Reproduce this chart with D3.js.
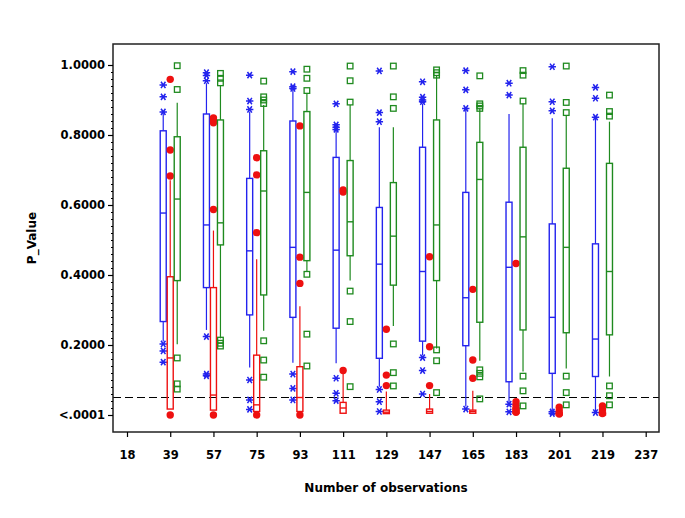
<!DOCTYPE html>
<html>
<head>
<meta charset="utf-8">
<script src="https://cdn.jsdelivr.net/npm/d3@7"></script>
<style>
  body { margin: 0; background: #fff; }
  text { font-family: "DejaVu Sans", sans-serif; font-weight: bold; fill: #000; }
</style>
</head>
<body>
<svg id="chart" width="685" height="518"></svg>
<script>
// x axis tick labels and the box groups
const ticksX = ['18', '39', '57', '75', '93', '111', '129', '147', '165', '183', '201', '219', '237'];
const groups = ['39', '57', '75', '93', '111', '129', '147', '165', '183', '201', '219'];
const ticksY = [0, 0.2, 0.4, 0.6, 0.8, 1.0];
const cutoff = 0.05;

// [whisker low, q1, median, q3, whisker high]
const blueBox = [
  [0.210, 0.267, 0.577, 0.812, 0.862], [0.243, 0.364, 0.543, 0.860, 0.948],
  [0.136, 0.286, 0.469, 0.676, 0.867], [0.149, 0.279, 0.479, 0.840, 0.929],
  [0.148, 0.248, 0.471, 0.736, 0.812], [0.081, 0.162, 0.431, 0.593, 0.822],
  [0.170, 0.211, 0.410, 0.765, 0.890], [0.024, 0.198, 0.335, 0.636, 0.876],
  [0.024, 0.095, 0.422, 0.608, 0.860], [0.012, 0.119, 0.279, 0.546, 0.848],
  [0.010, 0.110, 0.217, 0.489, 0.851]
];
const blueOut = [
  [0.943, 0.909, 0.866, 0.203, 0.183, 0.151], [0.978, 0.970, 0.955, 0.224, 0.117, 0.112],
  [0.971, 0.897, 0.873, 0.100, 0.043, 0.016], [0.981, 0.938, 0.933, 0.117, 0.076, 0.043],
  [0.889, 0.829, 0.822, 0.816, 0.105, 0.062, 0.041], [0.983, 0.864, 0.838, 0.073, 0.038, 0.010],
  [0.952, 0.908, 0.900, 0.895, 0.164, 0.127, 0.060], [0.984, 0.929, 0.876, 0.017],
  [0.948, 0.914, 0.031, 0.009], [0.995, 0.895, 0.869, 0.009, 0.004],
  [0.936, 0.905, 0.851, 0.007]
];

const redBox = [
  [0.017, 0.017, 0.163, 0.395, 0.671], [0.014, 0.014, 0.057, 0.364, 0.527],
  [0.010, 0.010, 0.029, 0.171, 0.445], [0.010, 0.010, 0.050, 0.138, 0.311],
  [0.005, 0.005, 0.020, 0.036, 0.121], [0.004, 0.004, 0.008, 0.014, 0.067],
  [0.005, 0.005, 0.010, 0.017, 0.060], [0.005, 0.005, 0.010, 0.014, 0.069],
  [0.005, 0.005, 0.010, 0.020, 0.040], [0.000, 0.000, 0.003, 0.006, 0.010],
  [0.000, 0.000, 0.004, 0.008, 0.012]
];
const redOut = [
  [0.959, 0.757, 0.683, 0.0], [0.849, 0.843, 0.835, 0.587, 0.0],
  [0.735, 0.686, 0.521, 0.0], [0.826, 0.451, 0.376, 0.0],
  [0.643, 0.637, 0.127], [0.245, 0.114, 0.084],
  [0.452, 0.195, 0.084], [0.359, 0.157, 0.105],
  [0.433, 0.038, 0.028, 0.018, 0.008], [0.022, 0.012, 0.003],
  [0.026, 0.015, 0.004]
];

const greenBox = [
  [0.202, 0.384, 0.617, 0.795, 0.892], [0.219, 0.486, 0.549, 0.843, 0.943],
  [0.241, 0.343, 0.640, 0.755, 0.886], [0.411, 0.441, 0.636, 0.867, 0.919],
  [0.384, 0.455, 0.552, 0.727, 0.886], [0.254, 0.371, 0.511, 0.664, 0.822],
  [0.190, 0.384, 0.543, 0.843, 0.969], [0.155, 0.265, 0.673, 0.779, 0.876],
  [0.124, 0.243, 0.509, 0.765, 0.890], [0.133, 0.235, 0.479, 0.705, 0.857],
  [0.110, 0.229, 0.410, 0.719, 0.838]
];
const greenOut = [
  [0.998, 0.930, 0.163, 0.089, 0.074], [0.976, 0.962, 0.949, 0.214, 0.205, 0.197],
  [0.954, 0.909, 0.900, 0.890, 0.212, 0.157, 0.108], [0.988, 0.962, 0.927, 0.402, 0.231, 0.140],
  [0.997, 0.955, 0.894, 0.354, 0.267, 0.081], [0.997, 0.909, 0.876, 0.203, 0.121, 0.083],
  [0.986, 0.978, 0.971, 0.186, 0.155, 0.064], [0.969, 0.889, 0.883, 0.876, 0.129, 0.119, 0.109, 0.046],
  [0.984, 0.971, 0.897, 0.111, 0.069, 0.026], [0.997, 0.893, 0.864, 0.111, 0.064, 0.029],
  [0.914, 0.867, 0.854, 0.083, 0.055, 0.029]
];

const series = [
  { box: blueBox, out: blueOut, color: '#2323ee', dx: -7, mark: 'star' },
  { box: redBox, out: redOut, color: '#ee1010', dx: 0, mark: 'dot' },
  { box: greenBox, out: greenOut, color: '#1f8a1f', dx: 7, mark: 'square' }
];

const svg = d3.select('#chart');
const frame = { left: 113, right: 659, top: 44, bottom: 432 };

const x = d3.scalePoint().domain(ticksX).range([127, 645.7]);
const y = d3.scaleLinear().domain([0, 1]).range([415, 65]);

// reference line at p = 0.05
svg.append('line')
  .attr('x1', frame.left).attr('x2', frame.right)
  .attr('y1', y(cutoff)).attr('y2', y(cutoff))
  .attr('stroke', '#000')
  .attr('stroke-width', 1.2)
  .attr('stroke-dasharray', '8,4');

const halfW = 3;

function starPath(s) {  // asterisk marker
  return `M${-s},0H${s}M${-s * 0.6},${-s * 0.85}L${s * 0.6},${s * 0.85}M${s * 0.6},${-s * 0.85}L${-s * 0.6},${s * 0.85}`;
}

series.forEach(s => {
  const g = svg.append('g');
  const box = g.selectAll('.box')
    .data(groups.map((k, i) => ({ k, v: s.box[i], out: s.out[i] })))
    .enter()
    .append('g')
    .attr('transform', d => `translate(${x(d.k) + s.dx},0)`);

  // whiskers
  box.append('line')
    .attr('y1', d => y(d.v[3])).attr('y2', d => y(d.v[4]))
    .attr('stroke', s.color).attr('stroke-width', 1.2);
  box.append('line')
    .attr('y1', d => y(d.v[1])).attr('y2', d => y(d.v[0]))
    .attr('stroke', s.color).attr('stroke-width', 1.2);

  // box
  box.append('rect')
    .attr('x', -halfW)
    .attr('width', halfW * 2)
    .attr('y', d => y(d.v[3]))
    .attr('height', d => Math.max(0.5, y(d.v[1]) - y(d.v[3])))
    .attr('fill', 'none')
    .attr('stroke', s.color)
    .attr('stroke-width', 1.4);

  // median
  box.append('line')
    .attr('x1', -halfW).attr('x2', halfW)
    .attr('y1', d => y(d.v[2])).attr('y2', d => y(d.v[2]))
    .attr('stroke', s.color).attr('stroke-width', 1.4);

  // outliers
  const pts = box.selectAll('.pt')
    .data(d => d.out)
    .enter();

  if (s.mark === 'star') {
    pts.append('path')
      .attr('d', starPath(3.7))
      .attr('transform', v => `translate(0,${y(v)})`)
      .attr('stroke', s.color).attr('stroke-width', 1.5).attr('fill', 'none');
  } else if (s.mark === 'dot') {
    pts.append('circle')
      .attr('cy', v => y(v))
      .attr('r', 3.7)
      .attr('fill', s.color);
  } else {
    pts.append('rect')
      .attr('x', -2.8).attr('width', 5.6)
      .attr('y', v => y(v) - 2.8).attr('height', 5.6)
      .attr('fill', 'none')
      .attr('stroke', s.color).attr('stroke-width', 1.3);
  }
});

// frame
svg.append('rect')
  .attr('x', frame.left).attr('y', frame.top)
  .attr('width', frame.right - frame.left)
  .attr('height', frame.bottom - frame.top)
  .attr('fill', 'none')
  .attr('stroke', '#222')
  .attr('stroke-width', 1.5);

// y axis
const yAxis = svg.append('g')
  .attr('transform', `translate(${frame.left},0)`)
  .call(d3.axisLeft(y)
    .tickValues(ticksY)
    .tickSize(5)
    .tickFormat(v => v === 0 ? '<.0001' : d3.format('.4f')(v)));
yAxis.select('.domain').remove();
yAxis.selectAll('text')
  .attr('x', -8)
  .style('font-size', '11.5px')
  .style('font-family', '"DejaVu Sans", sans-serif');
yAxis.selectAll('line').attr('stroke-width', 1.2);

const minor = d3.range(1, 50).map(i => i * 0.02).filter(v => Math.abs(v * 5 - Math.round(v * 5)) > 1e-6);
const yMinor = svg.append('g')
  .attr('transform', `translate(${frame.left},0)`)
  .call(d3.axisLeft(y).tickValues(minor).tickSize(2).tickFormat(''));
yMinor.select('.domain').remove();

// x axis
const xAxis = svg.append('g')
  .attr('transform', `translate(0,${frame.bottom})`)
  .call(d3.axisBottom(x).tickSize(5).tickPadding(14));
xAxis.select('.domain').remove();
xAxis.selectAll('text')
  .style('font-size', '11.5px')
  .style('font-family', '"DejaVu Sans", sans-serif');
xAxis.selectAll('line').attr('stroke-width', 1.2);

// axis titles
svg.append('text')
  .attr('x', (frame.left + frame.right) / 2)
  .attr('y', 492)
  .attr('text-anchor', 'middle')
  .style('font-size', '12px')
  .text('Number of observations');

svg.append('text')
  .attr('transform', `translate(36,${(frame.top + frame.bottom) / 2}) rotate(-90)`)
  .attr('text-anchor', 'middle')
  .style('font-size', '12px')
  .text('P_Value');
</script>
</body>
</html>
